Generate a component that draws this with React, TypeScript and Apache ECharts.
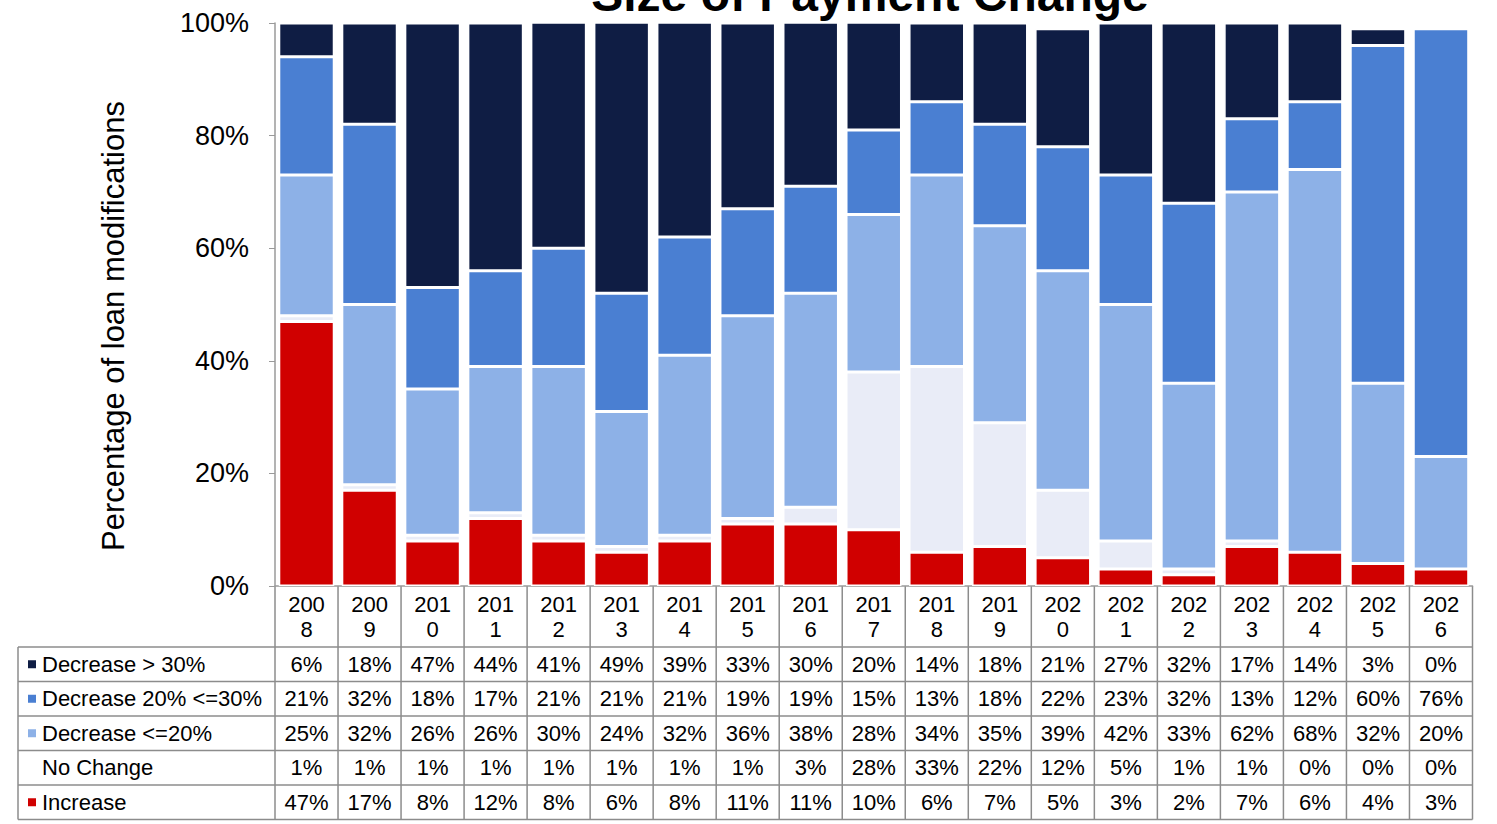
import React, { useEffect, useRef } from "react";
import * as echarts from "echarts";

const years = ["2008","2009","2010","2011","2012","2013","2014","2015","2016","2017","2018","2019","2020","2021","2022","2023","2024","2025","2026"];
const decreaseOver30 = [6,18,47,44,41,49,39,33,30,20,14,18,21,27,32,17,14,3,0];
const decrease20to30 = [21,32,18,17,21,21,21,19,19,15,13,18,22,23,32,13,12,60,76];
const decreaseUpTo20 = [25,32,26,26,30,24,32,36,38,28,34,35,39,42,33,62,68,32,20];
const noChange = [1,1,1,1,1,1,1,1,3,28,33,22,12,5,1,1,0,0,0];
const increase = [47,17,8,12,8,6,8,11,11,10,6,7,5,3,2,7,6,4,3];
const yTicks = [0, 20, 40, 60, 80, 100];

const FONT = "'Liberation Sans', Arial, sans-serif";
const colors = {
  dec30: "#0f1d44",
  dec2030: "#4a7fd2",
  dec20: "#8db1e7",
  noChange: "#e9ecf7",
  increase: "#d00000",
};

// table rows, top to bottom
const tableRows = [
  { name: "Decrease > 30%", values: decreaseOver30, color: colors.dec30, marker: true },
  { name: "Decrease 20% <=30%", values: decrease20to30, color: colors.dec2030, marker: true },
  { name: "Decrease <=20%", values: decreaseUpTo20, color: colors.dec20, marker: true },
  { name: "No Change", values: noChange, color: colors.noChange, marker: false },
  { name: "Increase", values: increase, color: colors.increase, marker: true },
];

export default function App() {
  const ref = useRef<HTMLDivElement>(null);
  useEffect(() => {
    if (!ref.current) return;
    const chart = echarts.init(ref.current, undefined, { renderer: "svg" });
    const gridLeft = 275;
    const gridRight = 24.5;
    const gridTop = 23;
    const gridBottom = 238;
    const mkSeries = (name: string, data: number[], color: string) => ({
      name,
      type: "bar",
      stack: "total",
      data,
      barCategoryGap: "12%",
      itemStyle: { color, borderColor: "#ffffff", borderWidth: 1.5 },
    });
    chart.setOption({
      animation: false,
      textStyle: { fontFamily: FONT },
      grid: { left: gridLeft, right: gridRight, top: gridTop, bottom: gridBottom, containLabel: false },
      xAxis: {
        type: "category",
        data: years,
        axisLine: { show: true, lineStyle: { color: "#9a9a9a", width: 1.5 } },
        axisTick: { show: false },
        axisLabel: {
          color: "#000",
          fontSize: 22,
          lineHeight: 25,
          margin: 6,
          fontFamily: FONT,
          formatter: (v: string) => v.slice(0, 3) + "\n" + v.slice(3),
        },
      },
      yAxis: {
        type: "value",
        min: 0,
        max: 100,
        interval: 20,
        axisLine: { show: true, lineStyle: { color: "#9a9a9a", width: 1.5 } },
        axisTick: { show: true, inside: false, length: 6, lineStyle: { color: "#9a9a9a" } },
        splitLine: { show: false },
        axisLabel: {
          color: "#000",
          fontSize: 27,
          margin: 26,
          fontFamily: FONT,
          formatter: (v: number) => (yTicks.includes(v) ? v + "%" : ""),
        },
      },
      series: [
        mkSeries("Increase", increase, colors.increase),
        mkSeries("No Change", noChange, colors.noChange),
        mkSeries("Decrease <=20%", decreaseUpTo20, colors.dec20),
        mkSeries("Decrease 20% <=30%", decrease20to30, colors.dec2030),
        mkSeries("Decrease > 30%", decreaseOver30, colors.dec30),
      ],
    });

    // build table from axis geometry
    const W = 1497;
    const H = 824;
    const plotRight = W - gridRight;
    const axisY = H - gridBottom;
    const colW = (plotRight - gridLeft) / years.length;
    const centers = years.map((y) => chart.convertToPixel({ xAxisIndex: 0 }, y) as number);
    const tableTop = 647;
    const rowH = 34.5;
    const tableLeft = 18;
    const lineColor = "#8c8c8c";
    const els: any[] = [];
    // horizontal lines
    for (let r = 0; r <= tableRows.length; r++) {
      const y = tableTop + r * rowH;
      els.push({
        type: "line",
        shape: { x1: tableLeft, y1: y, x2: plotRight, y2: y },
        style: { stroke: lineColor, lineWidth: 1.5 },
      });
    }
    // left border
    els.push({
      type: "line",
      shape: { x1: tableLeft, y1: tableTop, x2: tableLeft, y2: tableTop + tableRows.length * rowH },
      style: { stroke: lineColor, lineWidth: 1.5 },
    });
    // column boundaries
    for (let c = 0; c <= years.length; c++) {
      const x = gridLeft + c * colW;
      els.push({
        type: "line",
        shape: { x1: x, y1: axisY, x2: x, y2: tableTop + tableRows.length * rowH },
        style: { stroke: lineColor, lineWidth: 1.5 },
      });
    }
    tableRows.forEach((row, r) => {
      const cy = tableTop + r * rowH + rowH / 2;
      if (row.marker) {
        els.push({
          type: "rect",
          shape: { x: 28, y: cy - 4, width: 8, height: 8 },
          style: { fill: row.color },
        });
      }
      els.push({
        type: "text",
        x: 42,
        y: cy,
        style: {
          text: row.name,
          fontSize: 22,
          fontFamily: FONT,
          fill: "#000",
          align: "left",
          verticalAlign: "middle",
        },
      });
      row.values.forEach((v, i) => {
        els.push({
          type: "text",
          x: centers[i],
          y: cy,
          style: {
            text: v + "%",
            fontSize: 22,
            fontFamily: FONT,
            fill: "#000",
            align: "center",
            verticalAlign: "middle",
          },
        });
      });
    });
    // y axis title
    els.push({
      type: "text",
      x: 113,
      y: 326,
      rotation: Math.PI / 2,
      style: {
        text: "Percentage of loan modifications",
        fontSize: 31,
        fontFamily: FONT,
        fill: "#000",
        align: "center",
        verticalAlign: "middle",
      },
    });
    // title (cut off at the top in the reference)
    els.push({
      type: "text",
      x: 870,
      y: -6,
      style: {
        text: "Size of Payment Change",
        fontSize: 48,
        fontWeight: "bold",
        fontFamily: FONT,
        fill: "#000",
        align: "center",
        verticalAlign: "middle",
      },
    });
    chart.setOption({ graphic: { elements: els } });

    return () => chart.dispose();
  }, []);
  return (
    <div
      ref={ref}
      style={{ position: "fixed", left: 0, top: 0, width: 1497, height: 824, background: "#fff" }}
    />
  );
}
